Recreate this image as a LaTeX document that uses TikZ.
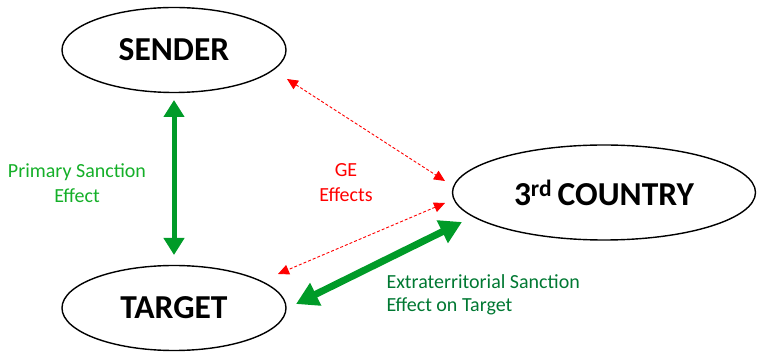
\documentclass[tikz,border=0pt]{standalone}
\usepackage{fontspec}
\setmainfont{Carlito}
\usetikzlibrary{arrows.meta,shapes.geometric}
\definecolor{arrgreen}{RGB}{0,155,40}
\definecolor{lblgreen}{RGB}{20,175,40}
\definecolor{dkgreen}{RGB}{0,120,50}
\definecolor{geRed}{RGB}{255,0,0}
\tikzset{
  party/.style={ellipse,draw=black,line width=1.4pt,font=\fontsize{33.5}{38}\selectfont\bfseries,inner sep=0pt},
  primarrow/.style={arrgreen,line width=5pt,{Triangle[width=20pt,length=17pt]}-{Triangle[width=20pt,length=17pt]}},
  extarrow/.style={arrgreen,line width=7pt,{Triangle[width=24pt,length=22pt]}-{Triangle[width=24pt,length=22pt]}},
  gearrow/.style={geRed,line width=0.9pt,dash pattern=on 3pt off 2pt,{Triangle[width=10pt,length=11pt]}-{Triangle[width=10pt,length=11pt]}},
  lbl/.style={font=\fontsize{20}{25}\selectfont,align=center}
}
\begin{document}
\begin{tikzpicture}[x=1pt,y=-1pt]
\useasboundingbox (0,0) rectangle (757,352);
\node[party,minimum width=224pt,minimum height=85pt] (sender) at (174,50) {SENDER};
\node[party,minimum width=224pt,minimum height=85pt] (target) at (174,308) {TARGET};
\node[party,minimum width=303pt,minimum height=95pt] (third) at (604,192.5) {3\textsuperscript{rd}\,COUNTRY};
\coordinate (psTop) at (174,100);
\coordinate (psBot) at (174,255);
\coordinate (geS) at (287,79);
\coordinate (geT1) at (445,181);
\coordinate (geT2) at (445,203);
\coordinate (geTg) at (278,274);
\coordinate (exT) at (462,222);
\coordinate (exTg) at (296,304);
\draw[primarrow] (psTop) -- (psBot);
\draw[gearrow] (geS) -- (geT1);
\draw[gearrow] (geT2) -- (geTg);
\draw[extarrow] (exT) -- (exTg);
\node[lbl,text=lblgreen] (plbl) at (77,183) {Primary Sanction\\Effect};
\node[lbl,text=geRed] (gelbl) at (346,183) {GE\\Effects};
\node[lbl,text=dkgreen,align=left,anchor=west,font=\fontsize{20}{23}\selectfont] (exlbl) at (383,295) {Extraterritorial Sanction\\Effect on Target};
\end{tikzpicture}
\end{document}
